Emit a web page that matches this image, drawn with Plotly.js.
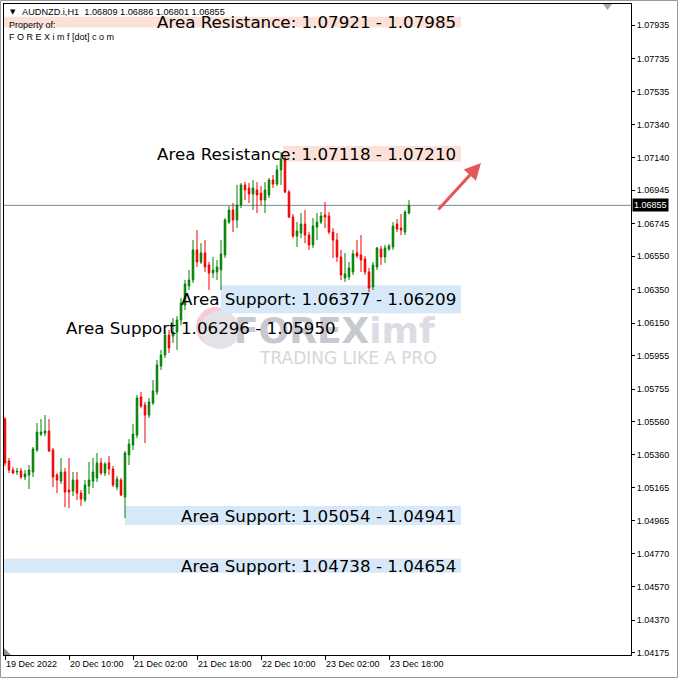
<!DOCTYPE html>
<html><head><meta charset="utf-8">
<script src="https://cdn.plot.ly/plotly-3.0.1.min.js"></script>
<style>html,body{margin:0;padding:0;background:#fff;overflow:hidden}</style>
</head><body><div id="chart" style="width:678px;height:678px"></div>
<script>
// ---------- data ----------
const symbol = "AUDNZD.i,H1";
const ownerLine1 = "Property of:";
const ownerLine2 = "F O R E X i m f [dot] c o m";

const open = [1.05575,1.05324,1.05270,1.05258,1.05264,1.05228,1.05240,1.05258,1.05390,1.05485,
1.05491,1.05503,1.05390,1.05240,1.05204,1.05258,1.05150,1.05144,1.05210,1.05132,
1.05090,1.05174,1.05204,1.05222,1.05312,1.05252,1.05312,1.05276,1.05168,1.05210,
1.05108,1.05360,1.05419,1.05479,1.05707,1.05659,1.05599,1.05671,1.05737,1.05893,
1.05959,1.06078,1.06072,1.06096,1.06168,1.06258,1.06372,1.06408,1.06588,1.06516,
1.06570,1.06498,1.06450,1.06456,1.06468,1.06558,1.06755,1.06827,1.06767,1.06857,
1.06977,1.06959,1.06923,1.06947,1.06929,1.06887,1.06917,1.07007,1.06983,1.07067,
1.07127,1.06935,1.06785,1.06671,1.06689,1.06743,1.06677,1.06618,1.06725,1.06755,
1.06797,1.06791,1.06695,1.06647,1.06546,1.06420,1.06426,1.06456,1.06570,1.06558,
1.06534,1.06456,1.06366,1.06486,1.06594,1.06546,1.06594,1.06606,1.06743,1.06719,
1.06695,1.06809];
const high = [1.05587,1.05342,1.05288,1.05282,1.05282,1.05270,1.05300,1.05408,1.05551,1.05575,
1.05599,1.05575,1.05402,1.05252,1.05342,1.05282,1.05342,1.05258,1.05258,1.05150,
1.05210,1.05318,1.05342,1.05372,1.05342,1.05318,1.05354,1.05294,1.05234,1.05222,
1.05384,1.05455,1.05545,1.05719,1.05737,1.05677,1.05701,1.05809,1.05929,1.05989,
1.06108,1.06108,1.06180,1.06192,1.06300,1.06408,1.06468,1.06647,1.06707,1.06629,
1.06647,1.06516,1.06546,1.06528,1.06647,1.06779,1.06851,1.06869,1.06977,1.06989,
1.06995,1.06989,1.07007,1.06995,1.06971,1.06995,1.07019,1.07037,1.07097,1.07175,
1.07157,1.06947,1.06803,1.06755,1.06809,1.06827,1.06695,1.06779,1.06809,1.06815,
1.06875,1.06815,1.06719,1.06689,1.06588,1.06570,1.06516,1.06588,1.06647,1.06677,
1.06552,1.06480,1.06516,1.06606,1.06612,1.06618,1.06624,1.06755,1.06773,1.06803,
1.06827,1.06886];
const low = [1.05294,1.05252,1.05246,1.05240,1.05216,1.05210,1.05156,1.05228,1.05378,1.05473,
1.05473,1.05378,1.05168,1.05132,1.05186,1.05048,1.05042,1.05114,1.05090,1.05054,
1.05078,1.05126,1.05162,1.05198,1.05240,1.05234,1.05240,1.05168,1.05150,1.05114,
1.04982,1.05300,1.05390,1.05461,1.05641,1.05431,1.05581,1.05659,1.05719,1.05869,
1.05941,1.05971,1.06031,1.05989,1.06138,1.06228,1.06348,1.06390,1.06486,1.06504,
1.06456,1.06348,1.06420,1.06408,1.06348,1.06540,1.06743,1.06695,1.06719,1.06839,
1.06887,1.06869,1.06827,1.06809,1.06857,1.06809,1.06899,1.06959,1.06971,1.06977,
1.06929,1.06779,1.06659,1.06606,1.06659,1.06629,1.06588,1.06600,1.06647,1.06743,
1.06719,1.06683,1.06540,1.06516,1.06408,1.06396,1.06408,1.06438,1.06540,1.06456,
1.06438,1.06336,1.06348,1.06468,1.06498,1.06510,1.06582,1.06588,1.06695,1.06677,
1.06677,1.06801];
const close = [1.05312,1.05270,1.05252,1.05262,1.05228,1.05246,1.05270,1.05396,1.05497,1.05497,
1.05503,1.05384,1.05228,1.05210,1.05258,1.05138,1.05138,1.05210,1.05132,1.05096,
1.05180,1.05210,1.05258,1.05312,1.05252,1.05306,1.05276,1.05180,1.05216,1.05120,
1.05372,1.05425,1.05485,1.05701,1.05653,1.05599,1.05677,1.05743,1.05899,1.05959,
1.06078,1.06001,1.06096,1.06168,1.06270,1.06384,1.06408,1.06588,1.06516,1.06570,
1.06486,1.06450,1.06468,1.06486,1.06564,1.06767,1.06827,1.06767,1.06857,1.06977,
1.06947,1.06923,1.06959,1.06917,1.06887,1.06947,1.07007,1.06983,1.07067,1.07133,
1.06935,1.06785,1.06671,1.06701,1.06743,1.06677,1.06618,1.06731,1.06755,1.06791,
1.06785,1.06695,1.06647,1.06546,1.06438,1.06444,1.06480,1.06564,1.06552,1.06528,
1.06456,1.06360,1.06498,1.06600,1.06546,1.06600,1.06612,1.06731,1.06713,1.06707,
1.06815,1.06855];

const timeTickBars = [0,16,32,48,64,80,96];
const timeTickLabels = ["19 Dec 2022","20 Dec 10:00","21 Dec 02:00","21 Dec 18:00","22 Dec 10:00","23 Dec 02:00","23 Dec 18:00"];
const priceTickValues = [1.07935,1.07735,1.07535,1.07340,1.07140,1.06945,1.06745,1.06550,1.06350,1.06150,
1.05955,1.05755,1.05560,1.05360,1.05165,1.04965,1.04770,1.04570,1.04370,1.04175];

const areaLabels = ["Area Resistance: 1.07921 - 1.07985","Area Resistance: 1.07118 - 1.07210",
"Area Support: 1.06377 - 1.06209","Area Support 1.06296 - 1.05950",
"Area Support: 1.05054 - 1.04941","Area Support: 1.04738 - 1.04654"];
const areaBottom = [1.07921,1.07118,1.06209,1.05950,1.04941,1.04654];
const areaTop    = [1.07985,1.07210,1.06377,1.06296,1.05054,1.04738];
const areaKind   = ["resistance","resistance","support","none","support","support"];
const areaStartBar = [-0.25,69.5,54,null,30,-0.25];

const brandMain = "FOREX", brandSub = "imf", brandSlogan = "TRADING LIKE A PRO";

// ---------- layout helpers ----------
const W = 678, H = 678, ML = 4, MR = 47, MT = 4, MB = 23;
const PW = W - ML - MR, PH = H - MT - MB;
const px = x => (x - ML) / PW;           // pixel -> paper x
const py = y => (PH + MT - y) / PH;      // pixel -> paper y
const X0 = -0.25, X1 = 156.5;
const areaRightBar = 114, labelRightBar = [113.3,113.3,113.3,83.3,113.3,113.3];
const fmt = v => v.toFixed(5);

const xIdx = close.map((_, i) => i);
const last = close.length - 1;

const trace = {
  type: 'candlestick', x: xIdx, open: open, high: high, low: low, close: close,
  increasing: {line: {color: '#008000', width: 1}, fillcolor: '#008000'},
  decreasing: {line: {color: '#ee0000', width: 1}, fillcolor: '#ee0000'},
  whiskerwidth: 0, hoverinfo: 'skip', showlegend: false
};

const shapes = [];
const annotations = [];

// watermark (drawn first so that everything else sits on top)
annotations.push({xref: 'paper', yref: 'paper', x: px(232), y: py(331), xanchor: 'left', yanchor: 'middle',
  showarrow: false, text: brandMain + "<span style='color:#dcdce4'>" + brandSub + "</span>",
  font: {family: 'DejaVu Sans', size: 36, weight: 'bold', color: '#c8c8d0'}});
annotations.push({xref: 'paper', yref: 'paper', x: px(257), y: py(357.5), xanchor: 'left', yanchor: 'middle',
  showarrow: false, text: brandSlogan, font: {family: 'DejaVu Sans', size: 17, color: '#d6d6da'}});
shapes.push({type: 'circle', xref: 'paper', yref: 'paper', layer: 'below',
  x0: px(196), x1: px(236), y0: py(347), y1: py(307), fillcolor: '#f5cbd5', line: {width: 0}});
shapes.push({type: 'circle', xref: 'paper', yref: 'paper', layer: 'below',
  x0: px(200), x1: px(240), y0: py(349), y1: py(311), fillcolor: '#e2e2e7', line: {width: 0}});

areaLabels.forEach((lab, k) => {
  if (areaKind[k] !== 'none') {
    shapes.push({type: 'rect', layer: 'below', xref: 'x', yref: 'y',
      x0: areaStartBar[k], x1: areaRightBar, y0: areaBottom[k], y1: areaTop[k],
      fillcolor: areaKind[k] === 'resistance' ? '#fbe1d7' : '#d7e8f9', line: {width: 0}});
  }
  annotations.push({xref: 'x', yref: 'y', x: labelRightBar[k], y: (areaBottom[k] + areaTop[k]) / 2,
    xanchor: 'right', yanchor: 'middle', showarrow: false, text: lab,
    font: {family: 'DejaVu Sans', size: 16.7, color: '#000'}});
});

// current price line
shapes.push({type: 'line', xref: 'x', yref: 'y', x0: X0, x1: X1, y0: close[last], y1: close[last],
  line: {color: '#7a8a98', width: 1}, layer: 'below'});

// window frame & markers
shapes.push({type: 'rect', xref: 'paper', yref: 'paper', x0: px(0.5), x1: px(677.5), y0: py(677.5), y1: py(0.5),
  line: {color: '#9a9a9a', width: 1}});
shapes.push({type: 'path', xref: 'paper', yref: 'paper',
  path: `M ${px(4)} ${py(655)} L ${px(4)} ${py(648)} L ${px(11)} ${py(655)} Z`, fillcolor: '#909090', line: {width: 0}});
shapes.push({type: 'path', xref: 'paper', yref: 'paper',
  path: `M ${px(603)} ${py(4)} L ${px(612)} ${py(4)} L ${px(607.5)} ${py(10)} Z`, fillcolor: '#a8a8a8', line: {width: 0}});

// header
annotations.push({xref: 'paper', yref: 'paper', x: px(8), y: py(12), xanchor: 'left', yanchor: 'middle',
  showarrow: false, text: '\u25BC', font: {family: 'DejaVu Sans', size: 7, color: '#000'}});
annotations.push({xref: 'paper', yref: 'paper', x: px(20), y: py(12), xanchor: 'left', yanchor: 'middle',
  showarrow: false, text: symbol + '\u00a0\u00a0' + [open[last], high[last], low[last], close[last]].map(fmt).join(' '),
  font: {family: 'Liberation Sans', size: 9.2, color: '#000'}});
annotations.push({xref: 'paper', yref: 'paper', x: px(7), y: py(25), xanchor: 'left', yanchor: 'middle',
  showarrow: false, text: ownerLine1, font: {family: 'Liberation Sans', size: 9, color: '#000'}});
annotations.push({xref: 'paper', yref: 'paper', x: px(7), y: py(37), xanchor: 'left', yanchor: 'middle',
  showarrow: false, text: ownerLine2, font: {family: 'Liberation Sans', size: 9, color: '#000'}});

// current price tag
annotations.push({xref: 'paper', yref: 'y', x: 1, y: close[last], xanchor: 'left', yanchor: 'middle',
  showarrow: false, text: fmt(close[last]), bgcolor: '#000', borderpad: 1,
  font: {family: 'Liberation Sans', size: 9, color: '#fff'}, xshift: 1});

// arrow
annotations.push({xref: 'x', yref: 'y', axref: 'x', ayref: 'y', x: 119, y: 1.07109, ax: 108, ay: 1.06821,
  text: '', showarrow: true, arrowhead: 2, arrowsize: 1.1, arrowwidth: 3, arrowcolor: '#e55858'});

const tickFont = {family: 'Liberation Sans', size: 9, color: '#000'};
const layout = {
  width: W, height: H, margin: {l: ML, r: MR, t: MT, b: MB, pad: 0},
  paper_bgcolor: '#fff', plot_bgcolor: '#fff', showlegend: false, boxgap: 0.45,
  xaxis: {type: 'linear', range: [X0, X1], tickvals: timeTickBars, ticktext: timeTickLabels,
    ticks: 'outside', ticklen: 4, tickcolor: '#000', tickwidth: 1, ticklabelposition: 'outside right',
    showgrid: false, zeroline: false, showline: true, linecolor: '#000', linewidth: 1, mirror: true,
    rangeslider: {visible: false}, tickfont: tickFont, fixedrange: true},
  yaxis: {side: 'right', range: [1.04162, 1.08061], tickvals: priceTickValues, ticktext: priceTickValues.map(fmt),
    ticks: 'outside', ticklen: 3, tickcolor: '#000', tickwidth: 1,
    showgrid: false, zeroline: false, showline: true, linecolor: '#000', linewidth: 1, mirror: true,
    tickfont: tickFont, fixedrange: true},
  shapes: shapes, annotations: annotations
};

Plotly.newPlot('chart', [trace], layout, {displayModeBar: false, staticPlot: true});
</script></body></html>
